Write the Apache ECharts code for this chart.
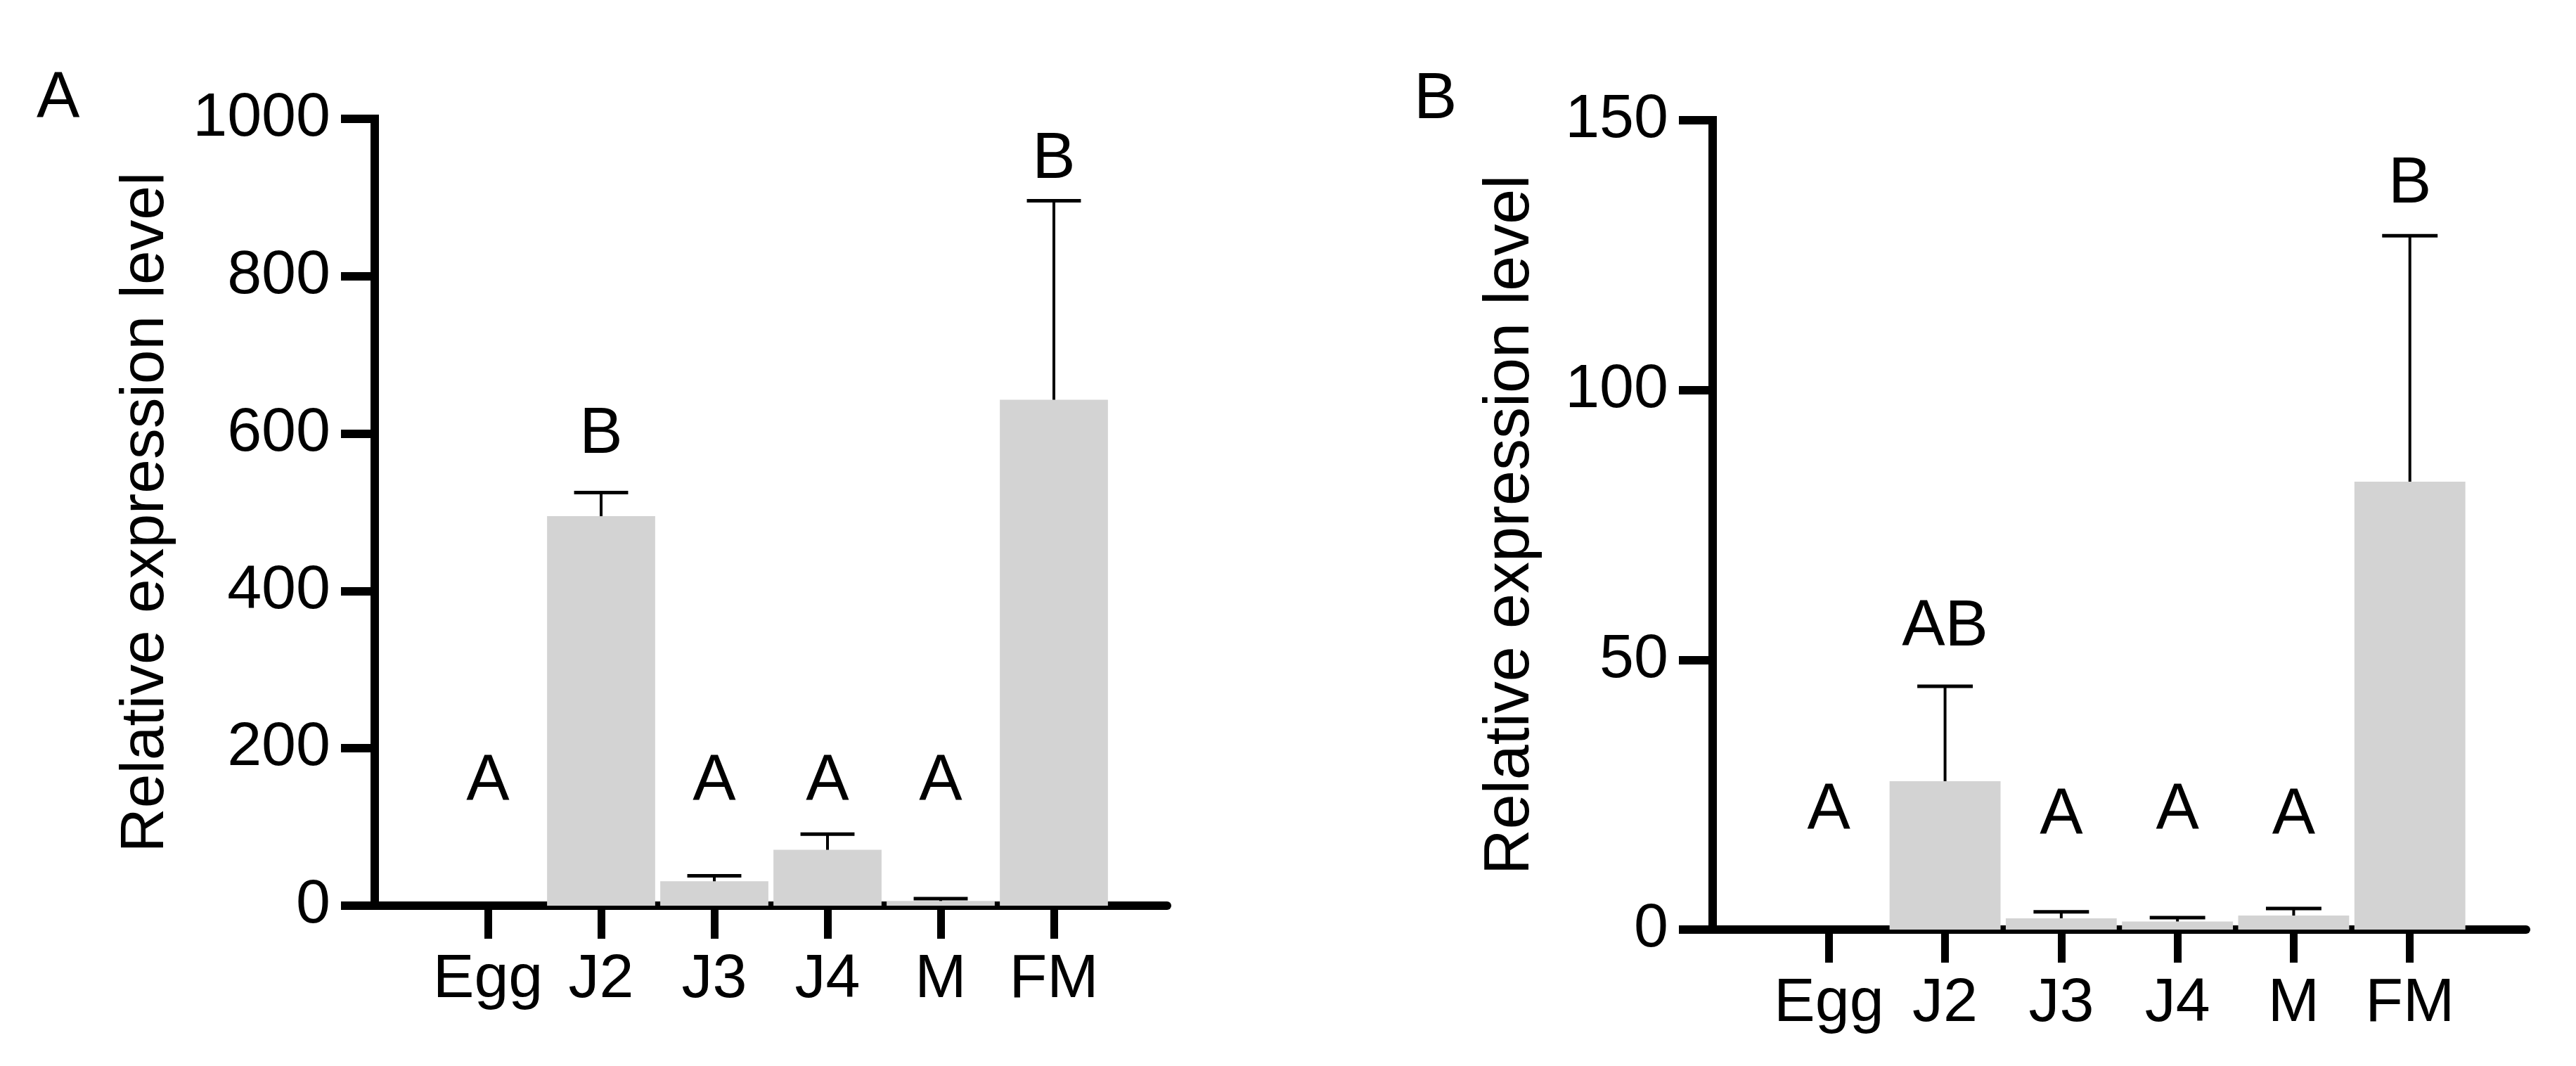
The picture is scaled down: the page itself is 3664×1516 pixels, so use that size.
<!DOCTYPE html>
<html>
<head>
<meta charset="utf-8">
<script src="https://cdn.jsdelivr.net/npm/echarts@6/dist/echarts.min.js"></script>
<style>
  html, body { margin: 0; background: #fff; }
  #chart { width: 3664px; height: 1516px; }
</style>
</head>
<body>
<div id="chart"></div>
<script>
// stages on the x axis (same for both panels)
const categories = ['Egg', 'J2', 'J3', 'J4', 'M', 'FM']
const yTitle = 'Relative expression level'

// panel A
const meanA = [0, 495, 31, 71, 6, 643]
const sdA = [0, 30, 7, 20, 3, 253]
const lettersA = ['A', 'B', 'A', 'A', 'A', 'B']
const letterLevelA = [157, 598, 157, 157, 157, 948]
const yMaxA = 1000
const yStepA = 200

// panel B
const meanB = [0, 27.5, 2.1, 1.5, 2.6, 83]
const sdB = [0, 17.6, 1.2, 0.7, 1.3, 45.6]
const lettersB = ['A', 'AB', 'A', 'A', 'A', 'B']
const letterLevelB = [22, 56, 21, 22, 21, 138]
const yMaxB = 150
const yStepB = 50

const FONT = 'Liberation Sans'
const BAR = '#d3d3d3'
const BAR_RATIO = 0.955

function xAxisFor(gridIndex) {
  return {
    type: 'category',
    gridIndex: gridIndex,
    boundaryGap: false,
    data: [''].concat(categories, ['']),
    axisLine: { lineStyle: { color: '#000', width: 12 } },
    axisTick: {
      length: 47,
      interval: (i) => i > 0 && i <= categories.length,
      lineStyle: { color: '#000', width: 11 }
    },
    axisLabel: { interval: 0, margin: 62, fontSize: 88, color: '#000', fontFamily: FONT },
    splitLine: { show: false }
  }
}

function yAxisFor(gridIndex, max, step, gap, titleSize) {
  return {
    type: 'value',
    gridIndex: gridIndex,
    min: 0,
    max: max,
    interval: step,
    name: yTitle,
    nameLocation: 'middle',
    nameRotate: 90,
    nameGap: gap,
    nameTextStyle: { fontSize: titleSize, color: '#000', fontFamily: FONT },
    axisLine: { show: true, lineStyle: { color: '#000', width: 12, cap: 'square' } },
    axisTick: { show: true, length: 48, lineStyle: { color: '#000', width: 12 } },
    axisLabel: { margin: 63, fontSize: 88, color: '#000', fontFamily: FONT, formatter: v => String(v) },
    splitLine: { show: false }
  }
}

function barSeries(k, means) {
  return {
    type: 'bar',
    xAxisIndex: k,
    yAxisIndex: k,
    barWidth: (BAR_RATIO * 100) + '%',
    itemStyle: { color: BAR },
    silent: true,
    data: [null].concat(means, [null])
  }
}

function errorSeries(k, means, sds) {
  return {
    type: 'custom',
    xAxisIndex: k,
    yAxisIndex: k,
    clip: false,
    z: 3,
    silent: true,
    data: means.map((m, i) => [i + 1, m, m + sds[i]]).filter(d => d[1] > 0),
    renderItem(params, api) {
      const x = api.value(0)
      const base = api.coord([x, api.value(1)])
      const top = api.coord([x, api.value(2)])
      const half = api.size([1, 0])[0] * BAR_RATIO * 0.25
      return {
        type: 'group',
        children: [
          { type: 'line', shape: { x1: base[0], y1: base[1], x2: top[0], y2: top[1] }, style: { stroke: '#000', lineWidth: 4 } },
          { type: 'line', shape: { x1: top[0] - half, y1: top[1], x2: top[0] + half, y2: top[1] }, style: { stroke: '#000', lineWidth: 5 } }
        ]
      }
    }
  }
}

function letterSeries(k, letters, levels) {
  return {
    type: 'custom',
    xAxisIndex: k,
    yAxisIndex: k,
    clip: false,
    z: 4,
    silent: true,
    data: levels.map((v, i) => [i + 1, v]),
    renderItem(params, api) {
      const p = api.coord([api.value(0), api.value(1)])
      return {
        type: 'text',
        x: p[0],
        y: p[1],
        style: {
          text: letters[params.dataIndex],
          fontSize: 92,
          fontFamily: FONT,
          fill: '#000',
          align: 'center',
          verticalAlign: 'middle'
        }
      }
    }
  }
}

const chart = echarts.init(document.getElementById('chart'), null, { renderer: 'canvas' })
chart.setOption({
  backgroundColor: '#fff',
  animation: false,
  title: [
    { text: 'A', left: 52, top: 96, padding: 0, textStyle: { fontSize: 92, fontWeight: 'normal', color: '#000', fontFamily: FONT } },
    { text: 'B', left: 2011, top: 97, padding: 0, textStyle: { fontSize: 92, fontWeight: 'normal', color: '#000', fontFamily: FONT } }
  ],
  grid: [
    { left: 533, top: 169, width: 1127, height: 1119, outerBoundsMode: 'none' },
    { left: 2436, top: 171, width: 1157, height: 1151, outerBoundsMode: 'none' }
  ],
  xAxis: [xAxisFor(0), xAxisFor(1)],
  yAxis: [yAxisFor(0, yMaxA, yStepA, 281, 87.5), yAxisFor(1, yMaxB, yStepB, 242, 90)],
  series: [
    barSeries(0, meanA),
    errorSeries(0, meanA, sdA),
    letterSeries(0, lettersA, letterLevelA),
    barSeries(1, meanB),
    errorSeries(1, meanB, sdB),
    letterSeries(1, lettersB, letterLevelB)
  ]
})
</script>
</body>
</html>
